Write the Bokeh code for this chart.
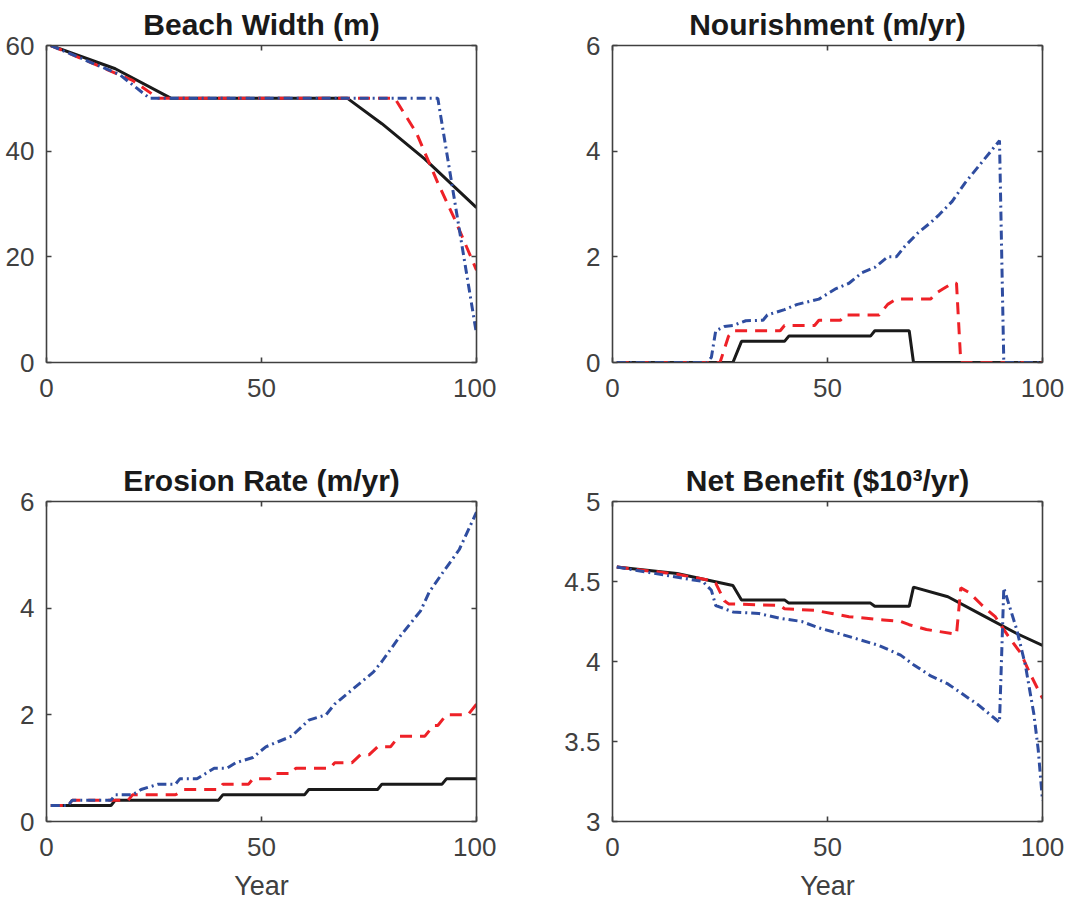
from bokeh.plotting import figure
from bokeh.models import Range1d, LinearAxis, FixedTicker
from bokeh.layouts import column, row
from bokeh.embed import file_html
from bokeh.resources import INLINE

# ---------------- data (vertices) ----------------
x_ticks = [0, 50, 100]

# Beach Width (m)
bw_black_x = [1, 16, 29, 70, 78, 88, 100]
bw_black_y = [60, 55.6, 50, 50, 45.2, 38.5, 29.3]
bw_red_x = [1, 20, 26, 81, 86, 91, 95, 100]
bw_red_y = [60, 53.4, 50, 50, 43.5, 34, 27, 17.5]
bw_blue_x = [1, 17, 24, 91, 100]
bw_blue_y = [60, 54.5, 50, 50, 5.4]
bw_yticks = [0, 20, 40, 60]
bw_ylabels = ["0", "20", "40", "60"]

# Nourishment (m/yr)
nr_black_x = [1, 28, 30, 40, 41, 60, 61, 69, 70, 100]
nr_black_y = [0, 0, 0.4, 0.4, 0.5, 0.5, 0.6, 0.6, 0, 0]
nr_red_x = [1, 25, 27, 28, 39, 40, 47, 48, 53, 54, 62, 63, 64, 66, 74, 75, 77, 79, 80, 81, 100]
nr_red_y = [0, 0, 0.5, 0.6, 0.6, 0.7, 0.7, 0.8, 0.8, 0.9, 0.9, 1.0, 1.1, 1.2, 1.2, 1.3, 1.4, 1.5, 1.5, 0, 0]
nr_blue_x = [1, 22, 23, 24, 26, 28, 31, 35, 36, 40, 43, 48, 52, 55, 58, 61, 64, 66, 68, 71, 74, 76, 79, 82, 86, 88, 90, 91, 100]
nr_blue_y = [0, 0, 0.1, 0.6, 0.68, 0.7, 0.79, 0.8, 0.9, 1.0, 1.1, 1.2, 1.4, 1.5, 1.7, 1.8, 2.0, 2.0, 2.2, 2.45, 2.65, 2.8, 3.05, 3.4, 3.8, 4.0, 4.2, 0, 0]
nr_yticks = [0, 2, 4, 6]
nr_ylabels = ["0", "2", "4", "6"]

# Erosion Rate (m/yr)
er_black_x = [1, 15, 16, 40, 41, 60, 61, 77, 78, 92, 93, 100]
er_black_y = [0.3, 0.3, 0.4, 0.4, 0.5, 0.5, 0.6, 0.6, 0.7, 0.7, 0.8, 0.8]
er_red_x = [1, 5, 6, 19, 20, 30, 32, 40, 41, 47, 48, 52, 53, 57, 58, 66, 67, 71, 73, 75, 77, 80, 82, 88, 90, 91, 93, 98, 100]
er_red_y = [0.3, 0.3, 0.4, 0.4, 0.5, 0.5, 0.6, 0.6, 0.7, 0.7, 0.8, 0.8, 0.9, 0.9, 1.0, 1.0, 1.1, 1.1, 1.25, 1.25, 1.4, 1.4, 1.6, 1.6, 1.8, 1.8, 2.0, 2.0, 2.2]
er_blue_x = [1, 5, 6, 15, 16, 20, 22, 26, 30, 31, 35, 37, 39, 42, 44, 48, 51, 54, 57, 61, 65, 67, 70, 73, 76, 78, 82, 87, 89, 92, 96, 100]
er_blue_y = [0.3, 0.3, 0.4, 0.4, 0.5, 0.5, 0.6, 0.7, 0.7, 0.8, 0.8, 0.9, 1.0, 1.0, 1.1, 1.2, 1.4, 1.5, 1.6, 1.9, 2.0, 2.2, 2.4, 2.6, 2.8, 3.0, 3.45, 3.95, 4.3, 4.65, 5.1, 5.8]
er_yticks = [0, 2, 4, 6]
er_ylabels = ["0", "2", "4", "6"]

# Net Benefit ($10^3/yr)
nb_black_x = [1, 15, 28, 30, 40, 41, 60, 61, 69, 70, 78, 86, 94, 100]
nb_black_y = [4.59, 4.55, 4.475, 4.385, 4.385, 4.365, 4.365, 4.345, 4.345, 4.465, 4.405, 4.29, 4.175, 4.10]
nb_red_x = [1, 15, 23, 24, 26, 27, 39, 40, 47, 51, 55, 59, 63, 67, 69, 73, 80, 81, 83, 86, 89, 92, 95, 97, 100]
nb_red_y = [4.59, 4.545, 4.505, 4.49, 4.38, 4.36, 4.35, 4.33, 4.32, 4.30, 4.28, 4.27, 4.26, 4.25, 4.23, 4.20, 4.17, 4.46, 4.43, 4.35, 4.28, 4.16, 4.05, 3.93, 3.77]
nb_blue_x = [1, 21, 23, 24, 25, 28, 34, 39, 44, 48, 52, 57, 62, 67, 70, 74, 78, 85, 90, 91, 94, 96, 98, 99, 100]
nb_blue_y = [4.59, 4.50, 4.445, 4.35, 4.34, 4.31, 4.30, 4.27, 4.25, 4.21, 4.18, 4.14, 4.10, 4.04, 3.98, 3.91, 3.86, 3.73, 3.62, 4.46, 4.20, 3.98, 3.67, 3.45, 3.13]
nb_yticks = [3, 3.5, 4, 4.5, 5]
nb_ylabels = ["3", "3.5", "4", "4.5", "5"]

# ---------------- styling ----------------
FONT = "Liberation Sans"
AXC = "#404040"
BLACK = "#1a1a1a"
RED = "#ee2127"
BLUE = "#2f4da0"


def style_axis(ax, ticks, labels=None, show_labels=True, standoff=12):
    ax.ticker = FixedTicker(ticks=ticks)
    ax.axis_line_color = AXC
    ax.axis_line_width = 1.6
    ax.major_tick_line_color = AXC
    ax.major_tick_line_width = 1.6
    ax.major_tick_in = 5
    ax.major_tick_out = 0
    ax.minor_tick_line_color = None
    ax.major_label_text_font = FONT
    if show_labels:
        ax.major_label_text_color = AXC
        ax.major_label_text_font_size = "26px"
        ax.major_label_standoff = standoff
        if labels is not None:
            ax.major_label_overrides = {t: l for t, l in zip(ticks, labels)}
    else:
        ax.major_label_text_color = None
        ax.major_label_text_font_size = "0px"
        ax.major_label_standoff = 0


def make(title, ylo, yhi, yticks, ylabels, series, top_row, left_col):
    p = figure(
        frame_width=430, frame_height=317 if top_row else 320,
        x_range=Range1d(0, 100), y_range=Range1d(ylo, yhi),
        output_backend="svg", toolbar_location=None,
        min_border_left=46 if left_col else 116,
        min_border_right=20 if left_col else 30,
        min_border_top=45 if top_row else 89,
        min_border_bottom=50 if top_row else 84,
        background_fill_color="white", border_fill_color="white",
    )
    p.outline_line_color = None
    p.xgrid.visible = False
    p.ygrid.visible = False
    p.title.text = title
    p.title.align = "center"
    p.title.text_font = FONT
    p.title.text_font_size = "30px"
    p.title.text_font_style = "bold"
    p.title.text_color = BLACK
    p.title.standoff = 10

    style_axis(p.xaxis[0], x_ticks, [str(t) for t in x_ticks], standoff=16)
    style_axis(p.yaxis[0], yticks, ylabels, standoff=12)
    if not top_row:
        p.xaxis[0].axis_label = "Year"
        p.xaxis[0].axis_label_text_font = FONT
        p.xaxis[0].axis_label_text_font_size = "27px"
        p.xaxis[0].axis_label_text_font_style = "normal"
        p.xaxis[0].axis_label_text_color = AXC
        p.xaxis[0].axis_label_standoff = 12

    top = LinearAxis()
    style_axis(top, x_ticks, show_labels=False)
    p.add_layout(top, "above")
    right = LinearAxis()
    style_axis(right, yticks, show_labels=False)
    p.add_layout(right, "right")

    (bx, by), (rx, ry), (ux, uy) = series
    p.line(bx, by, line_color=BLACK, line_width=3)
    p.line(rx, ry, line_color=RED, line_width=3, line_dash="12 8")
    p.line(ux, uy, line_color=BLUE, line_width=3, line_dash="9 4 2 4")
    return p


p1 = make("Beach Width (m)", 0, 60, bw_yticks, bw_ylabels,
          [(bw_black_x, bw_black_y), (bw_red_x, bw_red_y), (bw_blue_x, bw_blue_y)], True, True)
p2 = make("Nourishment (m/yr)", 0, 6, nr_yticks, nr_ylabels,
          [(nr_black_x, nr_black_y), (nr_red_x, nr_red_y), (nr_blue_x, nr_blue_y)], True, False)
p3 = make("Erosion Rate (m/yr)", 0, 6, er_yticks, er_ylabels,
          [(er_black_x, er_black_y), (er_red_x, er_red_y), (er_blue_x, er_blue_y)], False, True)
p4 = make("Net Benefit ($10³/yr)", 3, 5, nb_yticks, nb_ylabels,
          [(nb_black_x, nb_black_y), (nb_red_x, nb_red_y), (nb_blue_x, nb_blue_y)], False, False)

layout = column(row(p1, p2), row(p3, p4))
open("out.html", "w").write(file_html(layout, INLINE))
